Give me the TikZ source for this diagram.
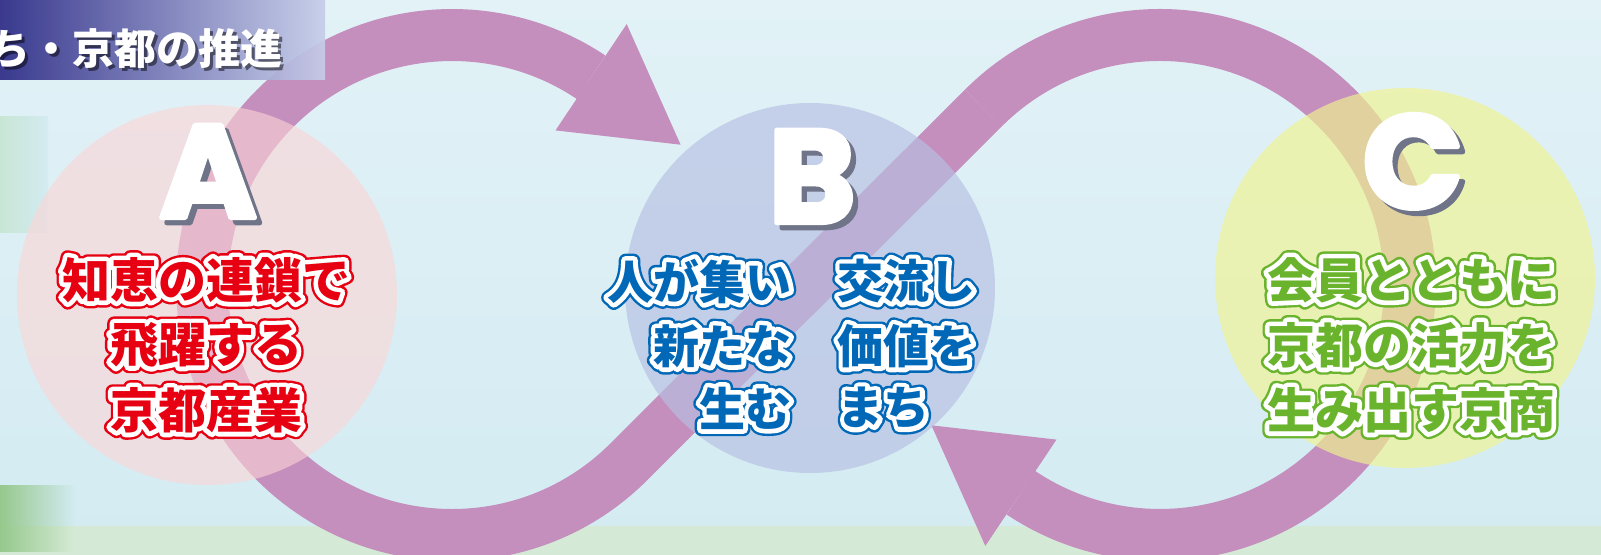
\documentclass[tikz,border=0pt]{standalone}
\usepackage{fontspec}
\newfontfamily\jpfont{Noto Sans CJK JP}
\newfontfamily\capfont{Poppins}

\definecolor{bandpink}{RGB}{196,142,189}
\definecolor{skytop}{RGB}{226,242,247}
\definecolor{skybot}{RGB}{211,235,242}
\definecolor{grassstrip}{RGB}{213,234,214}
\definecolor{patchgreen}{RGB}{150,200,140}
\definecolor{patchpale}{RGB}{200,230,212}
\definecolor{navybar}{RGB}{44,42,134}
\definecolor{midbar}{RGB}{88,82,160}
\definecolor{palebar}{RGB}{198,205,233}
\definecolor{shadowgray}{RGB}{112,116,136}
\definecolor{circA}{RGB}{253,213,213}
\definecolor{circB}{RGB}{184,192,227}
\definecolor{circC}{RGB}{241,244,144}
\definecolor{txtA}{RGB}{230,0,18}
\definecolor{txtB}{RGB}{0,104,183}
\definecolor{txtC}{RGB}{106,180,45}

% outlined lettering: coloured rim, white ring, coloured fill
\makeatletter
\newcommand\rimpass[2]{\pgfsetstrokecolor{#1}\pgfsetlinewidth{#2}\pgfsys@invoke{1 j 1 Tr}}
\newcommand\heavypass[2]{\pgfsetstrokecolor{#1}\pgfsetlinewidth{#2}\pgfsys@invoke{1 j 2 Tr}}
\newcommand\rimoff{\pgfsys@invoke{0 Tr}}
\makeatother
\newcommand\rim[2]{\rlap{\rimpass{#1}{7pt}#2}\rlap{\rimpass{white}{4.6pt}#2}\rimoff\textcolor{#1}{#2}}
% big white letter with a cast shadow
\newcommand\capglyph[1]{\rlap{\kern2.6pt\raisebox{-2.6pt}{\heavypass{shadowgray}{2.4pt}\textcolor{shadowgray}{#1}}}\heavypass{white}{2.4pt}\textcolor{white}{#1}\rimoff}
% title with a soft shadow
\newcommand\titleshade[1]{\rlap{\kern1.5pt\raisebox{-1.8pt}{\pgfsetfillopacity{.5}\textcolor{black}{#1}\pgfsetfillopacity{1}}}\textcolor{white}{#1}}

\tikzset{
  band/.style={bandpink, line width=26pt},
  capletter/.style={font=\capfont\bfseries\fontsize{66}{66}\selectfont, inner sep=0pt},
  jpline/.style={font=\jpfont\bfseries\fontsize{24}{24}\selectfont, inner sep=0pt},
  jpsmall/.style={font=\jpfont\bfseries\fontsize{23}{23}\selectfont, inner sep=0pt}
}

\begin{document}
\begin{tikzpicture}[x=0.5pt,y=-0.5pt]
    \useasboundingbox (0,0) rectangle (1601,555);
    % background
    \shade[top color=skytop, bottom color=skybot] (0,0) rectangle (1601,555);
    \fill[grassstrip] (0,526) rectangle (1601,555);
    \shade[left color=patchpale, right color=skybot] (0,117) rectangle (48,233);
    \shade[left color=patchgreen, right color=skybot] (0,486) rectangle (75,526);
    \shade[left color=patchgreen, right color=grassstrip] (0,526) rectangle (75,551);

    % the two loops
    \coordinate (lloop) at (452,285);
    \coordinate (rloop) at (1160,285);
    \draw[band] (983.4,108) -- (628.6,462) arc[start angle=45.07, end angle=303.8, radius=250];
    \draw[band] (983.4,108) arc[start angle=225.07, end angle=483.8, radius=250];
    \fill[bandpink] (626.7,24.1) -- (680.6,144.7) -- (555.5,130.4) -- cycle;
    \fill[bandpink] (985.3,545.9) -- (931.4,425.3) -- (1056.5,439.6) -- cycle;

    % circles
    \fill[circA, opacity=.6] (207,295) circle[radius=190];
    \fill[circB, opacity=.67] (810,288) circle[radius=185];
    \fill[circC, opacity=.66] (1405,278) circle[radius=190];

    % header
    \shade[left color=navybar, middle color=midbar, right color=palebar, opacity=.92] (0,0) rectangle (325,80);
    \node[anchor=west, font=\jpfont\bfseries\fontsize{21}{21}\selectfont] (title) at (-19,50) {\titleshade{ち・京都の推進}};

    % A
    \node[capletter] (A) at (208,174) {\capglyph{A}};
    \node[jpline] (a1) at (206,280) {\rim{txtA}{知恵の連鎖で}};
    \node[jpline] (a2) at (206,345) {\rim{txtA}{飛躍する}};
    \node[jpline] (a3) at (206,410) {\rim{txtA}{京都産業}};

    % B
    \node[capletter] (B) at (812,179) {\capglyph{B}};
    \node[jpsmall, anchor=east] (b1) at (796,281) {\rim{txtB}{人が集い}};
    \node[jpsmall, anchor=east] (b2) at (796,346) {\rim{txtB}{新たな}};
    \node[jpsmall, anchor=east] (b3) at (796,408) {\rim{txtB}{生む}};
    \node[jpsmall, anchor=west] (b4) at (833,281) {\rim{txtB}{交流し}};
    \node[jpsmall, anchor=west] (b5) at (833,346) {\rim{txtB}{価値を}};
    \node[jpsmall, anchor=west] (b6) at (833,408) {\rim{txtB}{まち}};

    % C
    \node[capletter] (C) at (1413,164) {\capglyph{C}};
    \node[jpline] (c1) at (1411,280) {\rim{txtC}{会員とともに}};
    \node[jpline] (c2) at (1411,345) {\rim{txtC}{京都の活力を}};
    \node[jpline] (c3) at (1411,410) {\rim{txtC}{生み出す京商}};
\end{tikzpicture}
\end{document}
